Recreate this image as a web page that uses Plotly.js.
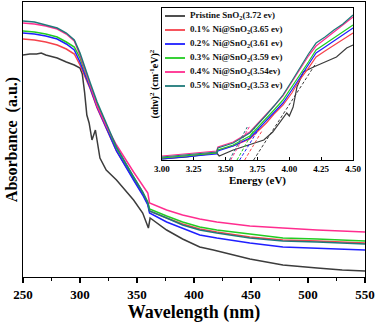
<!DOCTYPE html>
<html>
<head>
<meta charset="utf-8">
<script src="https://cdn.plot.ly/plotly-3.0.1.min.js"></script>
<style>
  html, body { margin: 0; padding: 0; background: #fff; }
  #chart { width: 378px; height: 324px; }
</style>
</head>
<body>
<div id="chart"></div>
<script>
// main UV-vis spectra (absorbance, a.u.)
var names = ['Pristine SnO<sub>2</sub>(3.72 ev)', '0.1% Ni@SnO<sub>2</sub>(3.65 ev)', '0.2% Ni@SnO<sub>2</sub>(3.61 ev)',
             '0.3% Ni@SnO<sub>2</sub>(3.59 ev)', '0.4% Ni@SnO<sub>2</sub>(3.54ev)', '0.5% Ni@SnO<sub>2</sub>(3.53 ev)'];
var colors = ['#3c3c3c', '#f5424b', '#1f1fff', '#22cc22', '#ff2d8f', '#1f7a7a'];

var wlPristine = [250, 256, 262, 266, 270, 280, 288, 295, 300, 302, 304, 306, 308, 310.5, 313.5, 317.5, 323, 332, 347, 355, 360, 361.5, 376, 390, 405, 417, 449, 478, 508, 530, 550];
var absPristine = [2.22, 2.23, 2.23, 2.24, 2.22, 2.19, 2.15, 2.12, 2.09, 2.03, 1.85, 1.62, 1.54, 1.37, 1.47, 1.19, 1.07, 0.97, 0.77, 0.64, 0.49, 0.59, 0.47, 0.38, 0.30, 0.27, 0.18, 0.12, 0.09, 0.07, 0.06];

var wl = [250, 260, 270, 280, 288, 295, 300, 304, 309, 315, 323, 332, 347, 355, 359.5, 361, 376, 390, 405, 420, 449, 478, 508, 550];
var abs01 = [2.38, 2.37, 2.35, 2.32, 2.28, 2.23, 2.12, 2.02, 1.88, 1.69, 1.48, 1.26, 0.98, 0.83, 0.73, 0.66, 0.59, 0.53, 0.48, 0.45, 0.40, 0.37, 0.36, 0.34];
var abs02 = [2.44, 2.43, 2.41, 2.38, 2.33, 2.27, 2.15, 2.04, 1.89, 1.70, 1.49, 1.26, 0.97, 0.82, 0.72, 0.64, 0.55, 0.49, 0.42, 0.39, 0.34, 0.30, 0.29, 0.27];
var abs03 = [2.46, 2.45, 2.43, 2.40, 2.35, 2.30, 2.19, 2.07, 1.92, 1.73, 1.52, 1.29, 1.00, 0.85, 0.75, 0.68, 0.61, 0.55, 0.50, 0.47, 0.43, 0.39, 0.38, 0.36];
var abs04 = [2.54, 2.53, 2.51, 2.48, 2.43, 2.36, 2.22, 2.08, 1.91, 1.71, 1.51, 1.32, 1.05, 0.91, 0.84, 0.74, 0.67, 0.62, 0.58, 0.55, 0.51, 0.49, 0.47, 0.45];
var abs05 = [2.56, 2.55, 2.52, 2.49, 2.44, 2.37, 2.24, 2.10, 1.94, 1.75, 1.54, 1.30, 1.00, 0.85, 0.74, 0.66, 0.59, 0.52, 0.47, 0.44, 0.39, 0.36, 0.35, 0.33];

// Tauc plot inset, (alpha h nu)^2 in arbitrary units
var ePristine = [3.0, 3.2, 3.43, 3.45, 3.56, 3.69, 3.8, 3.87, 3.95, 3.98, 4.0, 4.03, 4.06, 4.11, 4.19, 4.26, 4.37, 4.45, 4.5];
var taucPristine = [0.01, 0.03, 0.07, 0.04, 0.10, 0.15, 0.20, 0.28, 0.42, 0.47, 0.44, 0.53, 0.73, 0.88, 0.93, 0.97, 1.03, 1.12, 1.15];
var energy = [3.0, 3.2, 3.43, 3.44, 3.56, 3.69, 3.75, 3.82, 3.88, 3.95, 4.02, 4.08, 4.15, 4.21, 4.28, 4.35, 4.42, 4.5];
var tauc01 = [0.02, 0.04, 0.07, 0.10, 0.14, 0.21, 0.28, 0.37, 0.46, 0.55, 0.67, 0.80, 0.92, 1.03, 1.09, 1.15, 1.21, 1.27];
var tauc02 = [0.01, 0.03, 0.06, 0.09, 0.14, 0.22, 0.30, 0.39, 0.48, 0.57, 0.70, 0.82, 0.95, 1.07, 1.13, 1.19, 1.25, 1.32];
var tauc03 = [0.02, 0.04, 0.07, 0.10, 0.15, 0.24, 0.32, 0.41, 0.50, 0.60, 0.73, 0.85, 0.98, 1.10, 1.16, 1.22, 1.28, 1.35];
var tauc04 = [0.04, 0.06, 0.09, 0.13, 0.18, 0.28, 0.36, 0.45, 0.54, 0.64, 0.78, 0.91, 1.04, 1.14, 1.21, 1.28, 1.35, 1.43];
var tauc05 = [0.03, 0.05, 0.08, 0.12, 0.17, 0.27, 0.35, 0.45, 0.54, 0.65, 0.79, 0.92, 1.06, 1.17, 1.23, 1.30, 1.36, 1.45];

// linear fits: x-intercept = band gap, end point of the extrapolated line
var bandGap = [3.72, 3.65, 3.61, 3.59, 3.54, 3.53];
var fitEndE = [4.21, 3.79, 3.76, 3.73, 3.69, 3.67];
var fitEndY = [0.97, 0.30, 0.31, 0.32, 0.34, 0.33];

var spectraX = [wlPristine, wl, wl, wl, wl, wl];
var spectraY = [absPristine, abs01, abs02, abs03, abs04, abs05];
var taucX = [ePristine, energy, energy, energy, energy, energy];
var taucY = [taucPristine, tauc01, tauc02, tauc03, tauc04, tauc05];

var data = [];
for (var i = 0; i < names.length; i++) {
    data.push({ x: spectraX[i], y: spectraY[i], type: 'scatter', mode: 'lines', name: names[i],
        line: { color: colors[i], width: 1.5 }, showlegend: false, xaxis: 'x', yaxis: 'y' });
}
for (var i = 0; i < names.length; i++) {
    data.push({ x: taucX[i], y: taucY[i], type: 'scatter', mode: 'lines', name: names[i],
        line: { color: colors[i], width: 1.2 }, showlegend: false, xaxis: 'x2', yaxis: 'y2' });
    data.push({ x: [bandGap[i], fitEndE[i]], y: [0, fitEndY[i]], type: 'scatter', mode: 'lines',
        line: { color: colors[i], width: 1, dash: '3px,2px' }, showlegend: false, xaxis: 'x2', yaxis: 'y2' });
}

var serif = 'Liberation Serif, Times New Roman, serif';

// pixel helpers for the hand-made legend (plot area: 23..365 x, 2..277 y)
function px(x) { return (x - 23) / 342; }
function py(y) { return (277 - y) / 275; }

var shapes = [];
var annotations = [];
for (var i = 0; i < names.length; i++) {
    var yy = py(16 + 14 * i);
    shapes.push({ type: 'line', xref: 'paper', yref: 'paper', x0: px(165), x1: px(185), y0: yy, y1: yy,
        line: { color: colors[i], width: 1.8 } });
    annotations.push({ xref: 'paper', yref: 'paper', x: px(188), y: yy, xanchor: 'left', yanchor: 'middle',
        text: names[i], showarrow: false, font: { family: serif, size: 9, weight: 'bold', color: '#111' } });
}

var layout = {
    width: 378, height: 324,
    margin: { l: 23, r: 13, t: 2, b: 47 },
    paper_bgcolor: '#fff', plot_bgcolor: '#fff',
    showlegend: false,
    xaxis: {
        domain: [0, 1], range: [250, 550], dtick: 50, tick0: 250,
        ticks: 'outside', ticklen: 5, tickwidth: 1.2, tickcolor: '#000',
        minor: { dtick: 25, ticks: 'outside', ticklen: 3, tickcolor: '#000' },
        showline: true, mirror: true, linecolor: '#000', linewidth: 1.3,
        showgrid: false, zeroline: false,
        tickfont: { family: serif, size: 13, weight: 'bold', color: '#000' },
        title: { text: 'Wavelength (nm)', font: { family: serif, size: 18, weight: 'bold', color: '#000' }, standoff: 3 }
    },
    yaxis: {
        domain: [0, 1], range: [0, 2.75],
        showticklabels: false, ticks: '',
        showline: true, mirror: true, linecolor: '#000', linewidth: 1.3,
        showgrid: false, zeroline: false,
        title: { text: 'Absorbance  (a.u.)', font: { family: serif, size: 16, weight: 'bold', color: '#000' }, standoff: 0 }
    },
    xaxis2: {
        domain: [0.406, 0.965], range: [3.0, 4.5], dtick: 0.25, tick0: 3.0, tickformat: '.2f',
        anchor: 'y2', ticks: 'inside', ticklen: 3, tickcolor: '#000',
        showline: true, mirror: true, linecolor: '#000', linewidth: 1,
        showgrid: false, zeroline: false,
        tickfont: { family: serif, size: 9, weight: 'bold', color: '#000' },
        title: { text: 'Energy (eV)', font: { family: serif, size: 11, weight: 'bold', color: '#000' }, standoff: 3 }
    },
    yaxis2: {
        domain: [0.4255, 0.978], range: [0, 1.52], anchor: 'x2',
        showticklabels: false, ticks: '',
        showline: true, mirror: true, linecolor: '#000', linewidth: 1,
        showgrid: false, zeroline: false,
        title: { text: '(\u03b1h\u03bd)<sup>2</sup> (cm<sup>-1</sup>eV)<sup>2</sup>', font: { family: serif, size: 10, weight: 'bold', color: '#000' }, standoff: 0 }
    },
    shapes: shapes,
    annotations: annotations
};

Plotly.newPlot('chart', data, layout, { staticPlot: true });
</script>
</body>
</html>
